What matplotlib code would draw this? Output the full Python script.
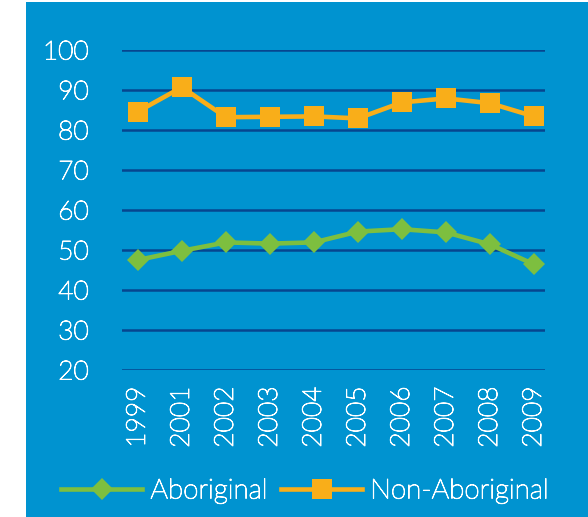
import matplotlib
matplotlib.use("Agg")
import matplotlib.pyplot as plt
import matplotlib.patheffects as pe
from matplotlib.patches import Rectangle

years = ["1999", "2001", "2002", "2003", "2004", "2005", "2006", "2007", "2008", "2009"]
aboriginal = [47.5, 49.8, 51.9, 51.6, 51.9, 54.6, 55.2, 54.4, 51.4, 46.4]
non_aboriginal = [84.6, 90.7, 83.2, 83.3, 83.4, 82.9, 86.9, 87.9, 86.7, 83.4]
yticks = [20, 30, 40, 50, 60, 70, 80, 90, 100]

BG = "#0093D0"
GRID = "#06458F"
ORANGE = "#F9AE19"
GREEN = "#7DBF3F"
FONT = "Lato"

plt.rcParams["font.family"] = [FONT, "DejaVu Sans"]
thick = [pe.withStroke(linewidth=0.7, foreground="white")]

fig = plt.figure(figsize=(5.88, 5.17), dpi=100)
fig.patch.set_facecolor("white")
bg = Rectangle((26 / 588, 0), 1 - 26 / 588, (517 - 2) / 517,
               transform=fig.transFigure, facecolor=BG,
               edgecolor="none", zorder=-10)
fig.add_artist(bg)

ax = fig.add_axes([122 / 588, (517 - 370) / 517, (545 - 122) / 588, 320 / 517])
ax.set_facecolor("none")
x = list(range(len(years)))

ax.plot(x, aboriginal, color=GREEN, lw=3.3, marker="D", ms=11,
        markeredgewidth=0, label="Aboriginal", zorder=3)
ax.plot(x, non_aboriginal, color=ORANGE, lw=3.3, marker="s", ms=15,
        markeredgewidth=0, label="Non-Aboriginal", zorder=3)

ax.set_ylim(20, 100)
ax.set_xlim(-0.36, 9.25)
ax.set_yticks(yticks)
ax.set_xticks(x)
ax.set_xticklabels(years, rotation=90)
for yv in yticks:
    ax.axhline(yv, color=GRID, lw=1.8, zorder=1)

for s in ax.spines.values():
    s.set_visible(False)
ax.tick_params(axis="both", length=0, colors="white", labelsize=19)
ax.tick_params(axis="y", pad=24)
ax.tick_params(axis="x", pad=12)
for lab in ax.get_xticklabels() + ax.get_yticklabels():
    lab.set_fontweight("light")
    lab.set_color("white")
    lab.set_path_effects(thick)

leg = fig.legend(loc="center", bbox_to_anchor=(305 / 588, (517 - 491) / 517),
                 ncol=2, frameon=False, handlelength=2.9,
                 handletextpad=0.3, columnspacing=0.5,
                 prop={"family": [FONT, "DejaVu Sans"], "weight": "light", "size": 20})
for t in leg.get_texts():
    t.set_color("white")
    t.set_path_effects(thick)

fig.savefig("out.png", dpi=100, facecolor=fig.get_facecolor())
